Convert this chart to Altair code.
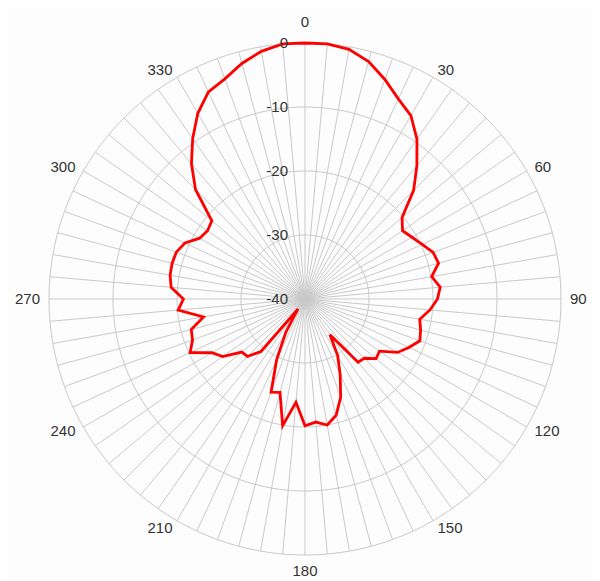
import altair as alt
import pandas as pd

# ---- data ----
angles = list(range(0, 360, 5))
gain_db = [
    0.0, 0.0, -0.4, -1.6, -3.5, -5.5, -6.9, -9.5, -12.8, -16.0,      # 0..45
    -20.2, -21.4, -20.7, -19.8, -18.7, -18.4, -19.9, -18.8, -19.3,    # 50..90
    -20.4, -21.8, -21.3, -20.9, -22.1, -23.3, -25.8, -25.5, -26.9,    # 95..135
    -27.1, -33.2, -29.8, -27.0, -23.7, -21.2, -20.0, -20.7, -20.2,    # 140..180
    -23.8, -19.9, -24.9, -24.5, -29.5, -34.0, -38.1, -29.3, -27.3,    # 185..225
    -27.1, -24.3, -23.2, -20.2, -21.3, -21.6, -23.9, -20.1, -21.0,    # 230..270
    -19.0, -18.6, -18.5, -18.6, -19.3, -21.0, -21.4, -21.0, -15.8,    # 275..315
    -12.4, -9.4, -6.5, -4.3, -3.4, -1.9, -0.7, 0.0,                   # 320..355
]
ring_levels = [-30, -20, -10, 0]
radial_tick_values = [0, -10, -20, -30, -40]
radial_tick_labels = ["0", "-10", "-20", "-30", "-40"]
angle_tick_values = list(range(0, 360, 30))
angle_tick_labels = [str(a) for a in angle_tick_values]
spoke_angles = list(range(0, 360, 5))

DB_MIN = -40.0
R_OUTER = 40.0
R_LABEL_TB = 43.1   # labels at 0 and 180
R_LABEL_SIDE = 41.4  # anchor radius of side labels (text starts there)
HALF = 40.0

# ---- tables built from the arrays ----
pattern = pd.DataFrame({"angle": angles + [360], "gain": gain_db + [gain_db[0]]})
pattern["order"] = range(len(pattern))

ring_rows = []
for lvl in ring_levels:
    for a in range(0, 361, 2):
        ring_rows.append({"level": lvl, "angle": a})
rings = pd.DataFrame(ring_rows)

spokes = pd.DataFrame({"angle": spoke_angles})
radial_ticks = pd.DataFrame({"value": radial_tick_values, "label": radial_tick_labels})
angle_ticks = pd.DataFrame({"angle": angle_tick_values, "label": angle_tick_labels})

xs = alt.Scale(domain=[-HALF, HALF], nice=False, zero=False)
ys = alt.Scale(domain=[-HALF, HALF], nice=False, zero=False)
GRID = "#c9c9c9"
FONT = "Liberation Sans"
TXT = "#333333"

ring_layer = alt.Chart(rings).transform_calculate(
    r=f"datum.level - ({DB_MIN})",
).transform_calculate(
    x="datum.r * sin(datum.angle * PI / 180)",
    y="datum.r * cos(datum.angle * PI / 180)",
).mark_line(color=GRID, strokeWidth=1, clip=False).encode(
    x=alt.X("x:Q", scale=xs, axis=None),
    y=alt.Y("y:Q", scale=ys, axis=None),
    detail="level:N",
    order="angle:Q",
)

spoke_layer = alt.Chart(spokes).transform_calculate(
    x0="0",
    y0="0",
    x1=f"{R_OUTER} * sin(datum.angle * PI / 180)",
    y1=f"{R_OUTER} * cos(datum.angle * PI / 180)",
).mark_rule(color=GRID, strokeWidth=1).encode(
    x=alt.X("x0:Q", scale=xs, axis=None),
    y=alt.Y("y0:Q", scale=ys, axis=None),
    x2="x1:Q",
    y2="y1:Q",
)

curve_layer = alt.Chart(pattern).transform_calculate(
    r=f"datum.gain - ({DB_MIN})",
).transform_calculate(
    x="datum.r * sin(datum.angle * PI / 180)",
    y="datum.r * cos(datum.angle * PI / 180)",
).mark_line(color="#ff0000", strokeWidth=2.8, strokeJoin="miter").encode(
    x=alt.X("x:Q", scale=xs, axis=None),
    y=alt.Y("y:Q", scale=ys, axis=None),
    order="order:Q",
)

radial_label_layer = alt.Chart(radial_ticks).transform_calculate(
    x="0",
    y=f"datum.value - ({DB_MIN})",
).mark_text(align="right", baseline="middle", dx=-17, fontSize=15, font=FONT, color=TXT).encode(
    x=alt.X("x:Q", scale=xs, axis=None),
    y=alt.Y("y:Q", scale=ys, axis=None),
    text="label:N",
)


def angle_labels(filter_expr, radius, align, dy=0):
    return alt.Chart(angle_ticks).transform_filter(filter_expr).transform_calculate(
        x=f"{radius} * sin(datum.angle * PI / 180)",
        y=f"{radius} * cos(datum.angle * PI / 180)",
    ).mark_text(align=align, baseline="middle", dy=dy, fontSize=15, font=FONT, color=TXT).encode(
        x=alt.X("x:Q", scale=xs, axis=None),
        y=alt.Y("y:Q", scale=ys, axis=None),
        text="label:N",
    )


labels_top = angle_labels("datum.angle == 0", R_LABEL_TB, "center", dy=-1)
labels_bottom = angle_labels("datum.angle == 180", R_LABEL_TB, "center", dy=-4)
labels_right = angle_labels("datum.angle > 0 && datum.angle < 180", R_LABEL_SIDE, "left")
labels_left = angle_labels("datum.angle > 180", R_LABEL_SIDE, "right")

chart = alt.layer(
    ring_layer, spoke_layer, curve_layer, radial_label_layer,
    labels_top, labels_bottom, labels_right, labels_left,
).properties(
    width=512,
    height=512,
    padding={"left": 41, "top": 35, "right": 31, "bottom": 25},
    autosize=alt.AutoSizeParams(type="none"),
    background="#fcfdfc",
).configure_view(stroke=None)

chart.save("out.html", embed_options={"renderer": "svg", "actions": False})
